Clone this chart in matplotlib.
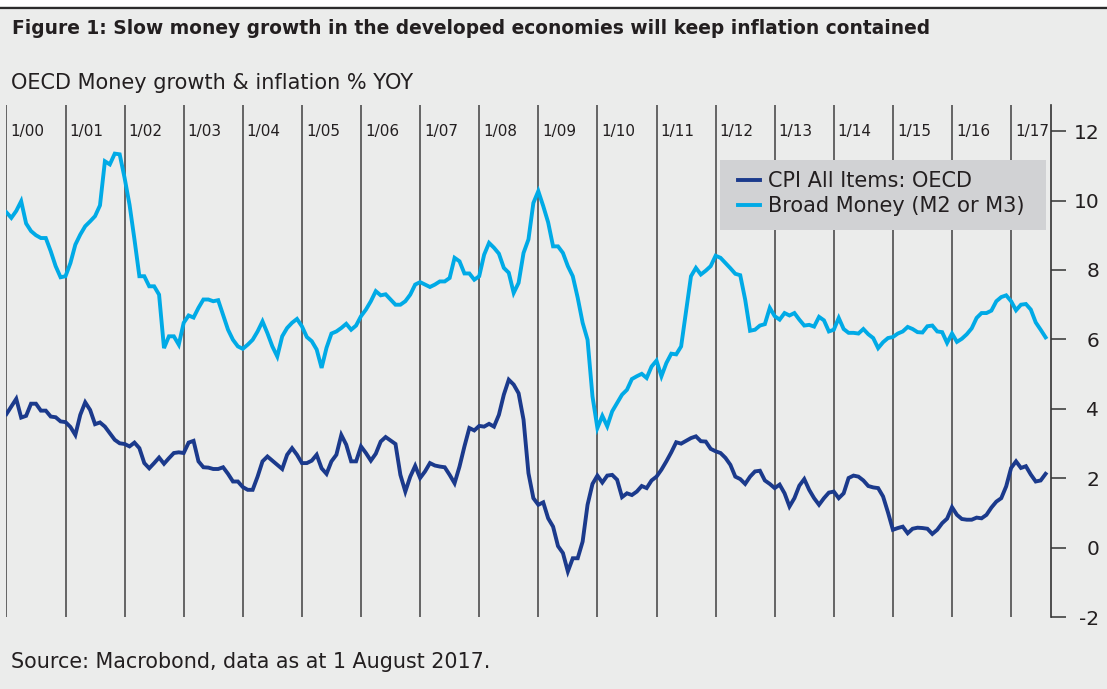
import matplotlib
matplotlib.use("Agg")
import matplotlib.pyplot as plt
import numpy as np
from matplotlib.patches import Rectangle
from matplotlib.lines import Line2D

# monthly % YoY, Jan 2000 .. Aug 2017
broad_money = [
    9.66, 9.50, 9.70, 9.98, 9.34, 9.12, 9.00, 8.92, 8.92, 8.54, 8.11, 7.79,     # 2000
    7.82, 8.20, 8.73, 9.02, 9.26, 9.40, 9.55, 9.86, 11.13, 11.04, 11.35, 11.33,  # 2001
    10.65, 9.88, 8.88, 7.82, 7.82, 7.53, 7.53, 7.29, 5.75, 6.09, 6.09, 5.85,    # 2002
    6.48, 6.69, 6.63, 6.91, 7.15, 7.15, 7.10, 7.13, 6.71, 6.28, 5.99, 5.80,     # 2003
    5.73, 5.85, 5.99, 6.23, 6.52, 6.18, 5.80, 5.51, 6.09, 6.33, 6.48, 6.59,     # 2004
    6.38, 6.07, 5.95, 5.71, 5.18, 5.76, 6.17, 6.23, 6.33, 6.45, 6.28, 6.40,     # 2005
    6.67, 6.86, 7.10, 7.39, 7.27, 7.30, 7.15, 7.00, 7.00, 7.10, 7.29, 7.58,     # 2006
    7.65, 7.58, 7.51, 7.58, 7.67, 7.67, 7.77, 8.35, 8.25, 7.90, 7.90, 7.72,     # 2007
    7.82, 8.44, 8.78, 8.64, 8.47, 8.06, 7.92, 7.34, 7.63, 8.49, 8.88, 9.93,     # 2008
    10.27, 9.84, 9.37, 8.68, 8.68, 8.49, 8.11, 7.82, 7.20, 6.48, 5.99, 4.36,    # 2009
    3.45, 3.80, 3.50, 3.93, 4.17, 4.41, 4.55, 4.86, 4.94, 5.01, 4.89, 5.22,     # 2010
    5.39, 4.94, 5.32, 5.59, 5.57, 5.80, 6.81, 7.82, 8.06, 7.87, 7.98, 8.11,     # 2011
    8.41, 8.35, 8.20, 8.05, 7.89, 7.85, 7.15, 6.25, 6.28, 6.40, 6.44, 6.91,     # 2012
    6.67, 6.57, 6.76, 6.69, 6.76, 6.57, 6.40, 6.42, 6.37, 6.65, 6.55, 6.23,     # 2013
    6.28, 6.62, 6.30, 6.19, 6.19, 6.17, 6.30, 6.15, 6.04, 5.75, 5.92, 6.04,     # 2014
    6.07, 6.17, 6.23, 6.36, 6.30, 6.21, 6.20, 6.38, 6.40, 6.23, 6.21, 5.90,     # 2015
    6.17, 5.93, 6.02, 6.15, 6.32, 6.62, 6.76, 6.76, 6.83, 7.10, 7.22, 7.27,     # 2016
    7.10, 6.84, 7.00, 7.02, 6.86, 6.49, 6.28, 6.06,                             # 2017
]
cpi = [
    3.85, 4.07, 4.29, 3.75, 3.80, 4.15, 4.15, 3.95, 3.95, 3.78, 3.76, 3.64,     # 2000
    3.62, 3.48, 3.25, 3.83, 4.19, 3.97, 3.56, 3.61, 3.49, 3.30, 3.11, 3.01,     # 2001
    2.99, 2.92, 3.03, 2.87, 2.44, 2.29, 2.44, 2.60, 2.42, 2.58, 2.73, 2.75,     # 2002
    2.73, 3.03, 3.08, 2.49, 2.32, 2.31, 2.27, 2.27, 2.32, 2.13, 1.91, 1.91,     # 2003
    1.75, 1.67, 1.67, 2.05, 2.49, 2.63, 2.51, 2.39, 2.27, 2.68, 2.87, 2.68,     # 2004
    2.44, 2.44, 2.51, 2.68, 2.29, 2.13, 2.49, 2.68, 3.25, 2.97, 2.49, 2.49,     # 2005
    2.92, 2.73, 2.51, 2.71, 3.06, 3.19, 3.09, 2.99, 2.10, 1.62, 2.05, 2.36,     # 2006
    2.01, 2.20, 2.44, 2.37, 2.34, 2.32, 2.10, 1.86, 2.34, 2.92, 3.45, 3.38,     # 2007
    3.51, 3.49, 3.57, 3.49, 3.83, 4.41, 4.84, 4.70, 4.45, 3.69, 2.15, 1.43,     # 2008
    1.24, 1.31, 0.85, 0.61, 0.05, -0.15, -0.68, -0.30, -0.30, 0.18, 1.24, 1.84, # 2009
    2.08, 1.88, 2.08, 2.10, 1.96, 1.46, 1.57, 1.52, 1.62, 1.78, 1.72, 1.94,     # 2010
    2.05, 2.25, 2.49, 2.75, 3.04, 3.00, 3.08, 3.16, 3.21, 3.07, 3.06, 2.85,     # 2011
    2.78, 2.73, 2.59, 2.39, 2.05, 1.98, 1.84, 2.05, 2.20, 2.22, 1.94, 1.84,     # 2012
    1.72, 1.82, 1.57, 1.19, 1.43, 1.79, 1.98, 1.67, 1.43, 1.24, 1.43, 1.59,     # 2013
    1.62, 1.43, 1.57, 2.01, 2.08, 2.05, 1.94, 1.78, 1.74, 1.72, 1.48, 1.02,     # 2014
    0.52, 0.57, 0.61, 0.42, 0.55, 0.58, 0.57, 0.55, 0.40, 0.52, 0.71, 0.84,     # 2015
    1.17, 0.95, 0.83, 0.81, 0.81, 0.87, 0.85, 0.95, 1.16, 1.33, 1.43, 1.77,     # 2016
    2.30, 2.49, 2.30, 2.35, 2.11, 1.91, 1.94, 2.13,                             # 2017
]
year_labels = ["1/%02d" % y for y in range(0, 18)]
y_ticks = [-2, 0, 2, 4, 6, 8, 10, 12]

title = "Figure 1: Slow money growth in the developed economies will keep inflation contained"
subtitle = "OECD Money growth & inflation % YOY"
source = "Source: Macrobond, data as at 1 August 2017."

BG = "#EBECEB"
TXT = "#231F20"
W, H = 1107, 689

fig = plt.figure(figsize=(W / 100, H / 100), dpi=100, facecolor=BG)

# white strip + dark rule on top
fig.patches.append(Rectangle((0, 1 - 6 / H), 1, 6 / H, transform=fig.transFigure,
                             facecolor="white", edgecolor="none"))
fig.lines.append(Line2D([0, 1], [1 - 7.5 / H, 1 - 7.5 / H], transform=fig.transFigure,
                        color="#2B2B2B", lw=1.6))

fig.text(12 / W, 1 - 29 / H, title, fontsize=13.4, fontweight="bold", color=TXT, va="center")
fig.text(11 / W, 1 - 83 / H, subtitle, fontsize=15, color=TXT, va="center")
fig.text(11 / W, 1 - 662 / H, source, fontsize=14.9, color=TXT, va="center")

left, right = 6.4 / W, 1051 / W
bottom, top = 1 - 617.3 / H, 1 - 105 / H
ax = fig.add_axes([left, bottom, right - left, top - bottom])
ax.set_facecolor(BG)

months = np.arange(len(cpi))
ax.plot(months, cpi, color="#1B3A8C", lw=2.8, label="CPI All Items: OECD",
        solid_joinstyle="miter")
ax.plot(months, broad_money, color="#00AAE6", lw=2.8, label="Broad Money (M2 or M3)",
        solid_joinstyle="miter")

ax.set_xlim(0, 212.1)
ax.set_ylim(-2, 12.75)

# year separators with labels at the top
for k, lab in enumerate(year_labels):
    ax.axvline(12 * k, color="#4D4D4D", lw=1.2, zorder=0)
    ax.text(12 * k + 0.8, 12.0, lab, fontsize=11, color=TXT, va="center", ha="left")

for s in ["left", "top", "bottom"]:
    ax.spines[s].set_visible(False)
ax.spines["right"].set_color("#333333")
ax.spines["right"].set_linewidth(1.2)
ax.set_xticks([])
ax.yaxis.tick_right()
ax.set_yticks(y_ticks)
ax.set_yticklabels([str(v) for v in y_ticks])
ax.tick_params(axis="y", length=10.8, width=1.1, color="#333333", labelsize=14.5,
               labelcolor=TXT, pad=24)
for lab in ax.get_yticklabels():
    lab.set_ha("right")

# legend: grey box drawn behind, legend itself frameless
ax.add_patch(Rectangle((720 / W, 1 - 230 / H), 326 / W, 70 / H, transform=fig.transFigure,
                       facecolor="#D1D2D4", edgecolor="none", zorder=4, clip_on=False))
leg = ax.legend(loc="upper left", bbox_to_anchor=(738 / W, 1 - 171 / H),
                bbox_transform=fig.transFigure, borderaxespad=0, borderpad=0,
                frameon=False, fontsize=15, handlelength=1.07, handletextpad=0.36,
                labelspacing=0.26, labelcolor=TXT)
leg.set_zorder(5)

fig.savefig("out.png", dpi=100, facecolor=BG)
